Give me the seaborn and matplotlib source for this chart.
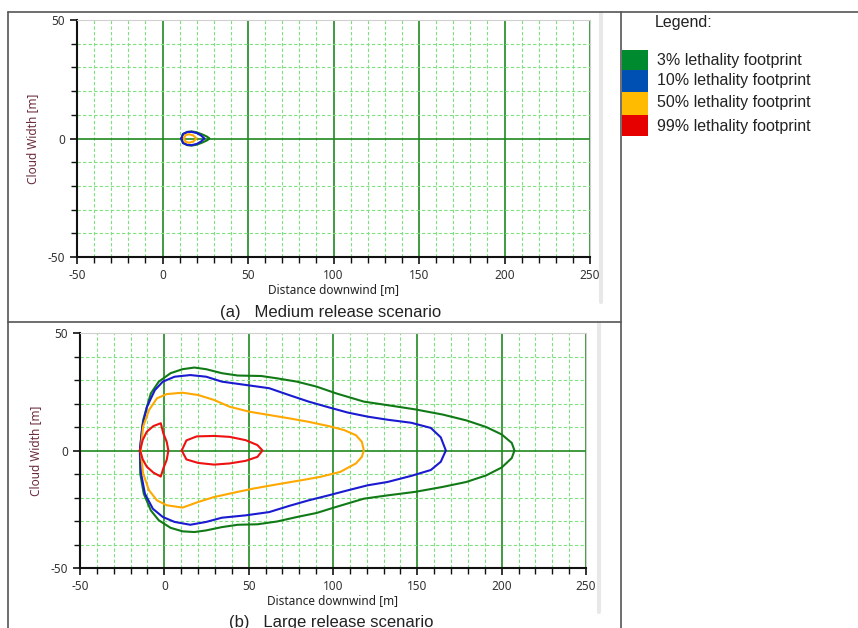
import matplotlib.pyplot as plt
import matplotlib.ticker as mticker
from matplotlib.lines import Line2D
from matplotlib.patches import Rectangle
import pandas as pd
import seaborn as sns

# Footprint contours (closed loops, x = downwind [m], y = width [m])
# (a) medium release
MED_3_X = [11, 12, 14.5, 17, 20, 23, 26, 27.5, 26, 23, 20, 17, 14.5, 12, 11]
MED_3_Y = [0, 1.9, 2.8, 3.0, 2.6, 1.8, 0.8, 0, -0.8, -1.8, -2.6, -3.0, -2.8, -1.9, 0]
MED_10_X = [11, 12, 14.5, 17, 20, 22.5, 24.5, 22.5, 20, 17, 14.5, 12, 11]
MED_10_Y = [0, 1.9, 2.7, 2.8, 2.3, 1.3, 0, -1.3, -2.3, -2.8, -2.7, -1.9, 0]
MED_50_X = [12.5, 13.5, 15.5, 18, 19.9, 18, 15.5, 13.5, 12.5]
MED_50_Y = [0, 1.4, 1.8, 1.3, 0, -1.3, -1.8, -1.4, 0]

# (b) large release
LRG_3_X = [-14.5, -12.6, -8, -3.3, 3.7, 10.8, 17.8, 24.8, 34.1, 43.5, 57.5, 66.9, 78.6, 90.2,
           101.9, 118.3, 132.3, 148.7, 165, 179.1, 190.8, 200.1, 206, 207.6,
           206, 200.1, 190.8, 179, 165, 148.7, 132.3, 118.3, 101.9, 90.2, 78.6, 66.9,
           55.2, 43.5, 34.1, 24.8, 17.8, 10.8, 3.7, -3.3, -8, -12.2, -14.3, -14.5]
LRG_3_Y = [0, 12.9, 24.3, 29.3, 32.9, 34.6, 35.3, 34.6, 32.9, 31.9, 31.7, 30.7, 29.3, 27.2,
           24.3, 20.8, 19.3, 17.5, 15.3, 12.8, 10.0, 6.8, 3.2, 0,
           -3.2, -7.2, -10.6, -13.4, -15.5, -17.6, -19.1, -20.5, -24.0, -26.6, -28.3, -30.2,
           -31.4, -31.6, -32.6, -34.0, -34.7, -34.4, -32.9, -29.7, -25.5, -18.4, -9.8, 0]
LRG_10_X = [-14.5, -13.1, -10.3, -5.6, -0.9, 6.1, 15.4, 24.8, 34.1, 48.2, 62.2, 73.9, 85.6,
            97.3, 109, 120.6, 132.3, 146.4, 158, 163.9, 166.9,
            163.9, 158, 146.4, 132.3, 120.6, 109, 97.3, 85.6, 73.9, 62.2, 48.2, 34.1, 24.8,
            15.4, 6.1, -0.9, -6.8, -11.5, -13.8, -14.5]
LRG_10_Y = [0, 10.1, 18.6, 25.7, 29.3, 31.4, 32.1, 31.4, 29.3, 27.9, 26.5, 23.6, 20.8,
            18.4, 16.1, 14.4, 13.1, 11.8, 9.6, 5.6, 0,
            -4.8, -8.3, -10.8, -13.4, -14.8, -16.9, -19.1, -21.2, -23.6, -26.2, -27.6, -28.6,
            -30.4, -31.6, -30.4, -28.3, -24.8, -18.4, -9.8, 0]
LRG_50_X = [-14, -12.6, -9.1, -4.4, 1.4, 10.8, 20.1, 29.5, 38.8, 50.5, 62.2, 73.9, 85.6,
            97.3, 106.6, 113.6, 117.1, 118.3,
            117.1, 113.6, 104.3, 92.6, 80.9, 66.9, 52.8, 43.5, 29.5, 20.1, 10.8, 1.4, -4.4,
            -9.1, -12.6, -14]
LRG_50_Y = [0, 10.1, 17.2, 22.2, 24.0, 24.6, 23.6, 21.5, 18.6, 16.5, 15.1, 13.7, 12.2,
            10.4, 8.7, 6.5, 3.7, 0,
            -2.7, -5.5, -9.1, -11.2, -12.7, -14.4, -16.2, -17.6, -19.8, -21.9, -24.3, -23.3,
            -21.2, -16.9, -9.8, 0]
LRG_99A_X = [-14.4, -12.8, -10.4, -6.5, -2.1, -0.6, 1.4, 2.4, 1.4, -0.6, -2.1, -6.5, -10.4,
             -12.8, -14.4]
LRG_99A_Y = [0, 4.5, 8.0, 10.4, 11.6, 7.3, 3.7, 0, -4.0, -7.6, -11.1, -9.4, -6.9, -3.8, 0]
LRG_99B_X = [10.3, 13.1, 19.2, 29.5, 38.8, 48.2, 55.2, 58.2, 55.2, 48.2, 38.8, 29.5, 20.1, 13.1, 10.3]
LRG_99B_Y = [0, 4.3, 6.0, 6.2, 5.8, 4.4, 2.3, 0, -2.7, -4.4, -5.5, -6.0, -5.3, -3.8, 0]

LINE_COLORS = {"3%": "#117a17", "10%": "#1a1ad0", "50%": "#ffa800", "99%": "#ee1111"}
PATCH_COLORS = ["#008a30", "#0050b4", "#ffbb00", "#e60000"]
LEGEND_LABELS = ["3% lethality footprint", "10% lethality footprint",
                 "50% lethality footprint", "99% lethality footprint"]


def make_df(loops):
    rows = []
    for i, (level, xs, ys) in enumerate(loops):
        for x, y in zip(xs, ys):
            rows.append({"x": x, "y": y, "level": level, "loop": i})
    return pd.DataFrame(rows)


df_med = make_df([("3%", MED_3_X, MED_3_Y), ("10%", MED_10_X, MED_10_Y),
                  ("50%", MED_50_X, MED_50_Y)])
df_lrg = make_df([("3%", LRG_3_X, LRG_3_Y), ("10%", LRG_10_X, LRG_10_Y),
                  ("50%", LRG_50_X, LRG_50_Y), ("99%", LRG_99A_X, LRG_99A_Y),
                  ("99%", LRG_99B_X, LRG_99B_Y)])

sns.set_style("white")
plt.rcParams["font.family"] = ["Noto Sans", "DejaVu Sans"]
plt.rcParams["axes.unicode_minus"] = False

W, H = 858, 628
fig = plt.figure(figsize=(W / 100, H / 100), dpi=100)


def fx(px):
    return px / W


def fy(py):
    return 1 - py / H


def style_axes(ax):
    ax.set_xlim(-50, 250)
    ax.set_ylim(-50, 50)
    ax.xaxis.set_major_locator(mticker.MultipleLocator(50))
    ax.xaxis.set_minor_locator(mticker.MultipleLocator(10))
    ax.yaxis.set_major_locator(mticker.MultipleLocator(50))
    ax.yaxis.set_minor_locator(mticker.MultipleLocator(10))
    ax.grid(which="minor", color="#7ee07e", linestyle=(0, (3, 2)), linewidth=0.8)
    ax.grid(which="major", color="#1f8a1f", linestyle="-", linewidth=1.2)
    ax.set_axisbelow(True)
    for s in ["left", "bottom"]:
        ax.spines[s].set_color("#111111")
        ax.spines[s].set_linewidth(1.5)
    for s in ["top", "right"]:
        ax.spines[s].set_color("#d0d0d0")
        ax.spines[s].set_linewidth(0.8)
    ax.tick_params(which="both", direction="out", color="#111111", labelsize=8.5,
                   labelcolor="#333333", left=True, bottom=True)
    ax.tick_params(which="major", length=5, width=1.2)
    ax.tick_params(which="minor", length=4, width=1.0)


ax1 = fig.add_axes([fx(77), fy(257), fx(590) - fx(77), fy(20) - fy(257)])
ax2 = fig.add_axes([fx(80), fy(568), fx(586) - fx(80), fy(333) - fy(568)])

for ax, d in [(ax1, df_med), (ax2, df_lrg)]:
    style_axes(ax)
    sns.lineplot(data=d, x="x", y="y", hue="level", units="loop", estimator=None,
                 sort=False, palette=LINE_COLORS, linewidth=1.5, legend=False, ax=ax)
    ax.set_xlabel("Distance downwind [m]", fontsize=8.5, color="#222222", labelpad=1)
    ax.set_ylabel("Cloud Width [m]", fontsize=8.5, color="#6b2c3c", labelpad=6)

# captions
cap_font = ["Liberation Sans", "DejaVu Sans"]
fig.text(fx(331), fy(313), "(a)   Medium release scenario", fontsize=12, ha="center",
         va="center", color="#222222", family=cap_font)
fig.text(fx(331), fy(622), "(b)   Large release scenario", fontsize=12, ha="center",
         va="center", color="#222222", family=cap_font)

# panel frame
frame = dict(color="#555555", linewidth=1.2, transform=fig.transFigure)
fig.add_artist(Line2D([fx(8), fx(858)], [fy(12), fy(12)], **frame))
fig.add_artist(Line2D([fx(8), fx(8)], [fy(12), fy(628)], **frame))
fig.add_artist(Line2D([fx(621), fx(621)], [fy(12), fy(628)], **frame))
fig.add_artist(Line2D([fx(8), fx(621)], [fy(322), fy(322)], **frame))
strip = dict(color="#e8e8e8", linewidth=3, transform=fig.transFigure, zorder=-1)
fig.add_artist(Line2D([fx(601), fx(601)], [fy(13), fy(302)], **strip))
fig.add_artist(Line2D([fx(599), fx(599)], [fy(324), fy(612)], **strip))

# legend panel
fig.text(fx(655), fy(22), "Legend:", fontsize=11.5, ha="left", va="center",
         color="#222222", family=cap_font)
tops = [50, 70, 92, 115]
bottoms = [70, 92, 115, 136]
label_y = [61, 81, 103, 126]
for t, b, ly, c, lab in zip(tops, bottoms, label_y, PATCH_COLORS, LEGEND_LABELS):
    fig.add_artist(Rectangle((fx(622), fy(b)), fx(648) - fx(622), fy(t) - fy(b),
                             facecolor=c, edgecolor="none", transform=fig.transFigure))
    fig.text(fx(657), fy(ly), lab, fontsize=11.5, ha="left", va="center",
             color="#222222", family=cap_font)

fig.savefig("out.png", dpi=100)
